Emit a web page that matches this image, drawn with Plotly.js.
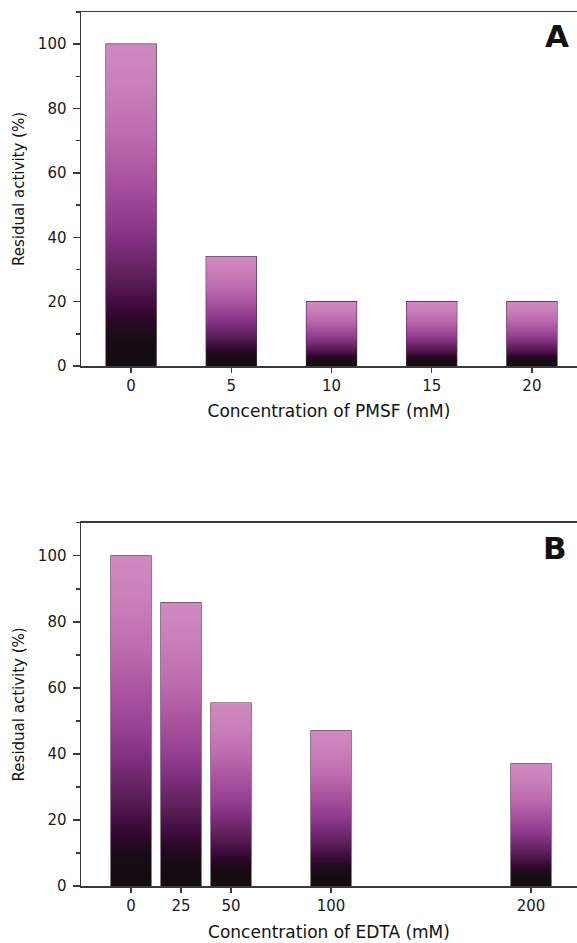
<!DOCTYPE html>
<html>
<head>
<meta charset="utf-8">
<script src="https://cdn.plot.ly/plotly-3.0.1.min.js"></script>
<style>html,body{margin:0;padding:0;background:#fff;}#chart{width:577px;height:943px;}</style>
</head>
<body>
<div id="chart"></div>
<script>
// ---- data ----
const concPMSF = [0, 5, 10, 15, 20];
const activityPMSF = [100, 34, 20, 20, 20];
const tickTextPMSF = ['0', '5', '10', '15', '20'];

const concEDTA = [0, 25, 50, 100, 200];
const activityEDTA = [100, 85.7, 55.4, 47, 37];
const tickTextEDTA = ['0', '25', '50', '100', '200'];

// ---- style ----
const FONT = 'DejaVu Sans, Arial, sans-serif';
const gradScale = [
  [0.00, '#120c10'], [0.08, '#170c15'], [0.14, '#2a0826'], [0.18, '#3c0a3a'],
  [0.27, '#5c1e58'], [0.38, '#7e2e7c'], [0.45, '#913c8f'], [0.58, '#a9529f'],
  [0.72, '#bd6cb0'], [0.86, '#c97eb9'], [1.00, '#cf8ac0']
];
const outline = '#3d2a3a';

function gradientBars(xs, ys, w, xa, ya) {
  return xs.map((xc, i) => ({
    type: 'scatter', mode: 'lines', xaxis: xa, yaxis: ya,
    x: [xc - w / 2, xc + w / 2, xc + w / 2, xc - w / 2, xc - w / 2],
    y: [0, 0, ys[i], ys[i], 0],
    line: {width: 0}, fill: 'toself',
    fillgradient: {type: 'vertical', colorscale: gradScale},
    hoverinfo: 'skip', showlegend: false
  }));
}
function outlineBars(xs, ys, w, xa, ya) {
  return {
    type: 'bar', x: xs, y: ys, width: w, xaxis: xa, yaxis: ya,
    marker: {color: 'rgba(0,0,0,0)', line: {color: outline, width: 1.2}},
    showlegend: false
  };
}

const traces = [
  ...gradientBars(concPMSF, activityPMSF, 2.5, 'x', 'y'),
  outlineBars(concPMSF, activityPMSF, 2.5, 'x', 'y'),
  ...gradientBars(concEDTA, activityEDTA, 20, 'x2', 'y2'),
  outlineBars(concEDTA, activityEDTA, 20, 'x2', 'y2')
];

const axisCommon = {
  showline: true, linecolor: '#3a3a3a', linewidth: 1.5,
  ticks: 'outside', tickcolor: '#3a3a3a', tickwidth: 1.5,
  showgrid: false, zeroline: false, automargin: false,
  tickfont: {family: FONT, size: 15, color: '#1a1a1a'}
};
const xTitleFont = {family: FONT, size: 17, color: '#111'};
const yTitleFont = {family: FONT, size: 15, color: '#111'};

const H = 943;
const layout = {
  width: 577, height: H,
  margin: {l: 81, r: 0, t: 0, b: 0},
  paper_bgcolor: '#fff', plot_bgcolor: '#fff',
  showlegend: false,
  xaxis: Object.assign({}, axisCommon, {
    anchor: 'y', domain: [0, 1], range: [-2.5, 22.25],
    tickvals: concPMSF, ticktext: tickTextPMSF, ticklen: 5, mirror: true,
    title: {text: 'Concentration of PMSF (mM)', font: xTitleFont, standoff: 11}
  }),
  yaxis: Object.assign({}, axisCommon, {
    anchor: 'x', domain: [1 - 366 / H, 1 - 12 / H], range: [0, 110],
    tick0: 0, dtick: 20, ticklen: 7, ticklabelstandoff: 3,
    minor: {ticks: 'outside', dtick: 10, ticklen: 4, tickcolor: '#3a3a3a', tickwidth: 1.5, showgrid: false},
    title: {text: 'Residual activity (%)', font: yTitleFont, standoff: 9}
  }),
  xaxis2: Object.assign({}, axisCommon, {
    anchor: 'y2', domain: [0, 1], range: [-25, 223],
    tickvals: concEDTA, ticktext: tickTextEDTA, ticklen: 5, mirror: true,
    title: {text: 'Concentration of EDTA (mM)', font: xTitleFont, standoff: 12}
  }),
  yaxis2: Object.assign({}, axisCommon, {
    anchor: 'x2', domain: [1 - 886 / H, 1 - 522.7 / H], range: [0, 110],
    tick0: 0, dtick: 20, ticklen: 7, ticklabelstandoff: 3,
    minor: {ticks: 'outside', dtick: 10, ticklen: 4, tickcolor: '#3a3a3a', tickwidth: 1.5, showgrid: false},
    title: {text: 'Residual activity (%)', font: yTitleFont, standoff: 9}
  }),
  annotations: [
    {text: '<b>A</b>', xref: 'paper', yref: 'paper', x: (557 - 81) / 496, y: 1 - 35.7 / H,
     xanchor: 'center', yanchor: 'middle', showarrow: false,
     font: {family: FONT, size: 31, color: '#111'}},
    {text: '<b>B</b>', xref: 'paper', yref: 'paper', x: (555 - 81) / 496, y: 1 - 547.7 / H,
     xanchor: 'center', yanchor: 'middle', showarrow: false,
     font: {family: FONT, size: 31, color: '#111'}}
  ]
};

Plotly.newPlot('chart', traces, layout, {displayModeBar: false, staticPlot: true});
</script>
</body>
</html>
